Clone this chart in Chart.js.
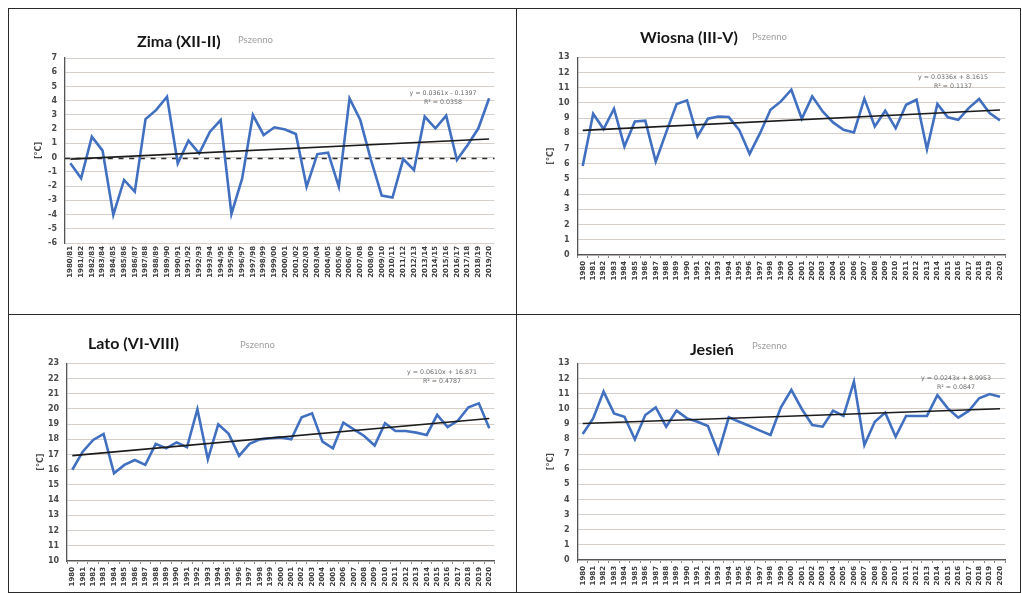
<!DOCTYPE html>
<html>
<head>
<meta charset="utf-8">
<script src="https://cdn.jsdelivr.net/npm/chart.js@4/dist/chart.umd.min.js"></script>
<style>
  html, body { margin: 0; padding: 0; background: #fff; }
  #page { position: relative; width: 1022px; height: 593px; overflow: hidden; font-family: Lato, "Open Sans", sans-serif; }
  .frame { position: absolute; box-sizing: border-box; border: 1.5px solid #2a2a2a; }
  canvas { position: absolute; }
  .title { position: absolute; font-weight: 700; font-size: 16px; color: #161616; white-space: nowrap; line-height: 16px; }
  .sub { position: absolute; font-size: 9.5px; color: #a0a0a0; white-space: nowrap; line-height: 10px; }
  .eq { position: absolute; font-family: "DejaVu Sans", sans-serif; font-size: 6.3px; color: #6a6a6a; white-space: nowrap; text-align: center; line-height: 9px; transform: translateX(-50%); }
</style>
</head>
<body>
<div id="page">
  <div class="frame" style="left:8px;top:8px;width:509px;height:307px"></div>
  <div class="frame" style="left:516px;top:8px;width:505px;height:307px"></div>
  <div class="frame" style="left:8px;top:314px;width:509px;height:279px"></div>
  <div class="frame" style="left:516px;top:314px;width:505px;height:279px"></div>

  <canvas id="cZima" width="504" height="302" style="left:10px;top:10px"></canvas>
  <canvas id="cWiosna" width="500" height="302" style="left:518px;top:10px"></canvas>
  <canvas id="cLato" width="504" height="274" style="left:10px;top:316px"></canvas>
  <canvas id="cJesien" width="500" height="274" style="left:518px;top:316px"></canvas>

  <div class="title" style="left:137px;top:33px">Zima (XII-II)</div>
  <div class="sub" style="left:238px;top:35px">Pszenno</div>
  <div class="title" style="left:640px;top:29px">Wiosna (III-V)</div>
  <div class="sub" style="left:752px;top:32px">Pszenno</div>
  <div class="title" style="left:88px;top:335px">Lato (VI-VIII)</div>
  <div class="sub" style="left:240px;top:340px">Pszenno</div>
  <div class="title" style="left:690px;top:341px">Jesień</div>
  <div class="sub" style="left:752px;top:341px">Pszenno</div>

  <div class="eq" id="eqZima" style="left:443px;top:88px"></div>
  <div class="eq" id="eqWiosna" style="left:953px;top:72px"></div>
  <div class="eq" id="eqLato" style="left:442px;top:367px"></div>
  <div class="eq" id="eqJesien" style="left:956px;top:373px"></div>
</div>

<script>
// Categories
const zimaLabels = ['1980/81','1981/82','1982/83','1983/84','1984/85','1985/86','1986/87','1987/88','1988/89','1989/90',
  '1990/91','1991/92','1992/93','1993/94','1994/95','1995/96','1996/97','1997/98','1998/99','1999/00',
  '2000/01','2001/02','2002/03','2003/04','2004/05','2005/06','2006/07','2007/08','2008/09','2009/10',
  '2010/11','2011/12','2012/13','2013/14','2014/15','2015/16','2016/17','2017/18','2018/19','2019/20'];
const yearLabels = ['1980','1981','1982','1983','1984','1985','1986','1987','1988','1989',
  '1990','1991','1992','1993','1994','1995','1996','1997','1998','1999',
  '2000','2001','2002','2003','2004','2005','2006','2007','2008','2009',
  '2010','2011','2012','2013','2014','2015','2016','2017','2018','2019','2020'];

// Seasonal mean air temperature [°C]
const zimaValues = [-0.40, -1.45, 1.47, 0.49, -4.03, -1.57, -2.39, 2.71, 3.35, 4.28,
  -0.40, 1.19, 0.30, 1.82, 2.64, -3.96, -1.46, 2.99, 1.59, 2.13,
  1.97, 1.66, -2.04, 0.25, 0.35, -2.04, 4.16, 2.64, -0.17, -2.67,
  -2.81, -0.10, -0.87, 2.88, 2.06, 2.95, -0.17, 0.89, 2.06, 4.17];
const wiosnaValues = [5.86, 9.29, 8.28, 9.62, 7.14, 8.78, 8.83, 6.15, 8.06, 9.93,
  10.17, 7.80, 8.96, 9.11, 9.07, 8.23, 6.65, 8.01, 9.55, 10.10,
  10.87, 8.96, 10.43, 9.44, 8.72, 8.23, 8.06, 10.28, 8.45, 9.49,
  8.34, 9.88, 10.21, 6.96, 9.93, 9.05, 8.89, 9.66, 10.26, 9.33, 8.85];
const latoValues = [16.00, 17.19, 17.96, 18.36, 15.77, 16.32, 16.64, 16.32, 17.70, 17.41,
  17.80, 17.48, 19.98, 16.69, 18.99, 18.36, 16.91, 17.70, 18.00, 18.07,
  18.13, 18.00, 19.45, 19.71, 17.85, 17.41, 19.10, 18.66, 18.22, 17.59,
  19.06, 18.55, 18.55, 18.44, 18.29, 19.61, 18.80, 19.23, 20.11, 20.37, 18.73];
const jesienValues = [8.33, 9.36, 11.13, 9.69, 9.47, 7.97, 9.58, 10.09, 8.81, 9.87,
  9.36, 9.14, 8.86, 7.09, 9.43, 9.14, 8.86, 8.55, 8.26, 10.09,
  11.24, 9.98, 8.92, 8.81, 9.87, 9.52, 11.79, 7.60, 9.14, 9.74,
  8.15, 9.52, 9.52, 9.52, 10.90, 10.02, 9.41, 9.85, 10.69, 10.97, 10.79];

// Linear trends: [slope, intercept] over x = 1..n, and R²
const zimaTrend = [0.0361, -0.1397];
const wiosnaTrend = [0.0336, 8.1615];
const latoTrend = [0.0610, 16.871];
const jesienTrend = [0.0243, 8.9953];
const trendR2 = ['0.0358', '0.1137', '0.4787', '0.0847'];

// Value axis ranges [min, max]
const zimaRange = [-6, 7];
const wiosnaRange = [0, 13];
const latoRange = [10, 23];
const jesienRange = [0, 13];

function equationText(t, r2) {
  const sign = t[1] < 0 ? '-' : '+';
  return 'y = ' + t[0].toFixed(4) + 'x ' + sign + ' ' + Math.abs(t[1]) + '<br>R² = ' + r2;
}

// Dashed category-axis line crossing at 0
const zeroLine = {
  id: 'zeroLine',
  beforeDatasetsDraw(chart) {
    const { ctx, chartArea: a, scales: { y } } = chart;
    const py = Math.round(y.getPixelForValue(0)) + 0.5;
    ctx.save();
    ctx.strokeStyle = '#2b2b2b';
    ctx.lineWidth = 1.4;
    ctx.setLineDash([5, 5.7]);
    ctx.beginPath();
    ctx.moveTo(a.left, py);
    ctx.lineTo(a.right, py);
    ctx.stroke();
    ctx.restore();
  }
};

function seasonChart(id, labels, values, trend, range, pad, xh, axisAtBottom, extra) {
  const n = labels.length;
  const trendData = labels.map((_, i) => (i === 0 || i === n - 1) ? trend[0] * (i + 1) + trend[1] : null);
  return new Chart(document.getElementById(id), {
    type: 'line',
    data: {
      labels: labels,
      datasets: [
        { data: values, borderColor: '#4170c0', borderWidth: 2.6, pointRadius: 0, tension: 0, order: 1 },
        { data: trendData, borderColor: '#1c1c1c', borderWidth: 1.6, pointRadius: 0, spanGaps: true, order: 0 }
      ]
    },
    options: {
      responsive: false,
      animation: false,
      devicePixelRatio: 1,
      layout: { padding: pad },
      plugins: { legend: { display: false }, tooltip: { enabled: false } },
      scales: {
        x: {
          offset: true,
          grid: { display: true, drawOnChartArea: false, drawTicks: axisAtBottom, tickLength: 3, tickColor: '#8a8a8a', offset: true },
          border: { display: axisAtBottom, color: '#555', width: 1.3 },
          ticks: { autoSkip: false, minRotation: 90, maxRotation: 90, padding: 3,
                   font: { family: 'DejaVu Sans', size: 7, weight: 'bold' }, color: '#3c3c3c' },
          afterFit: s => { s.height = xh; }
        },
        y: {
          min: range[0], max: range[1],
          ticks: { stepSize: 1, padding: 8, font: { family: 'DejaVu Sans', size: 8, weight: 'bold' }, color: '#4a4a4a' },
          grid: { color: '#d6cfc9', lineWidth: 1, drawTicks: false },
          border: { display: true, color: '#555', width: 1.3 },
          title: { display: true, text: '[°C]', font: { family: 'DejaVu Sans', size: 8, weight: 'bold' }, color: '#4a4a4a', padding: { top: 3, bottom: 0 } },
          afterFit: s => { s.width = 34; }
        }
      }
    },
    plugins: extra || []
  });
}

seasonChart('cZima', zimaLabels, zimaValues, zimaTrend, zimaRange,
  { top: 48, left: 21, right: 19.5, bottom: 19 }, 50, false, [zeroLine]);
seasonChart('cWiosna', yearLabels, wiosnaValues, wiosnaTrend, wiosnaRange,
  { top: 47.3, left: 25.5, right: 12.8, bottom: 22 }, 35, true);
seasonChart('cLato', yearLabels, latoValues, latoTrend, latoRange,
  { top: 47.3, left: 23.1, right: 19.5, bottom: 3 }, 26, true);
seasonChart('cJesien', yearLabels, jesienValues, jesienTrend, jesienRange,
  { top: 47.3, left: 25.5, right: 12.8, bottom: 4 }, 26, true);

document.getElementById('eqZima').innerHTML = equationText(zimaTrend, trendR2[0]);
document.getElementById('eqWiosna').innerHTML = equationText(wiosnaTrend, trendR2[1]);
document.getElementById('eqLato').innerHTML = equationText(latoTrend, trendR2[2]);
document.getElementById('eqJesien').innerHTML = equationText(jesienTrend, trendR2[3]);
</script>
</body>
</html>
